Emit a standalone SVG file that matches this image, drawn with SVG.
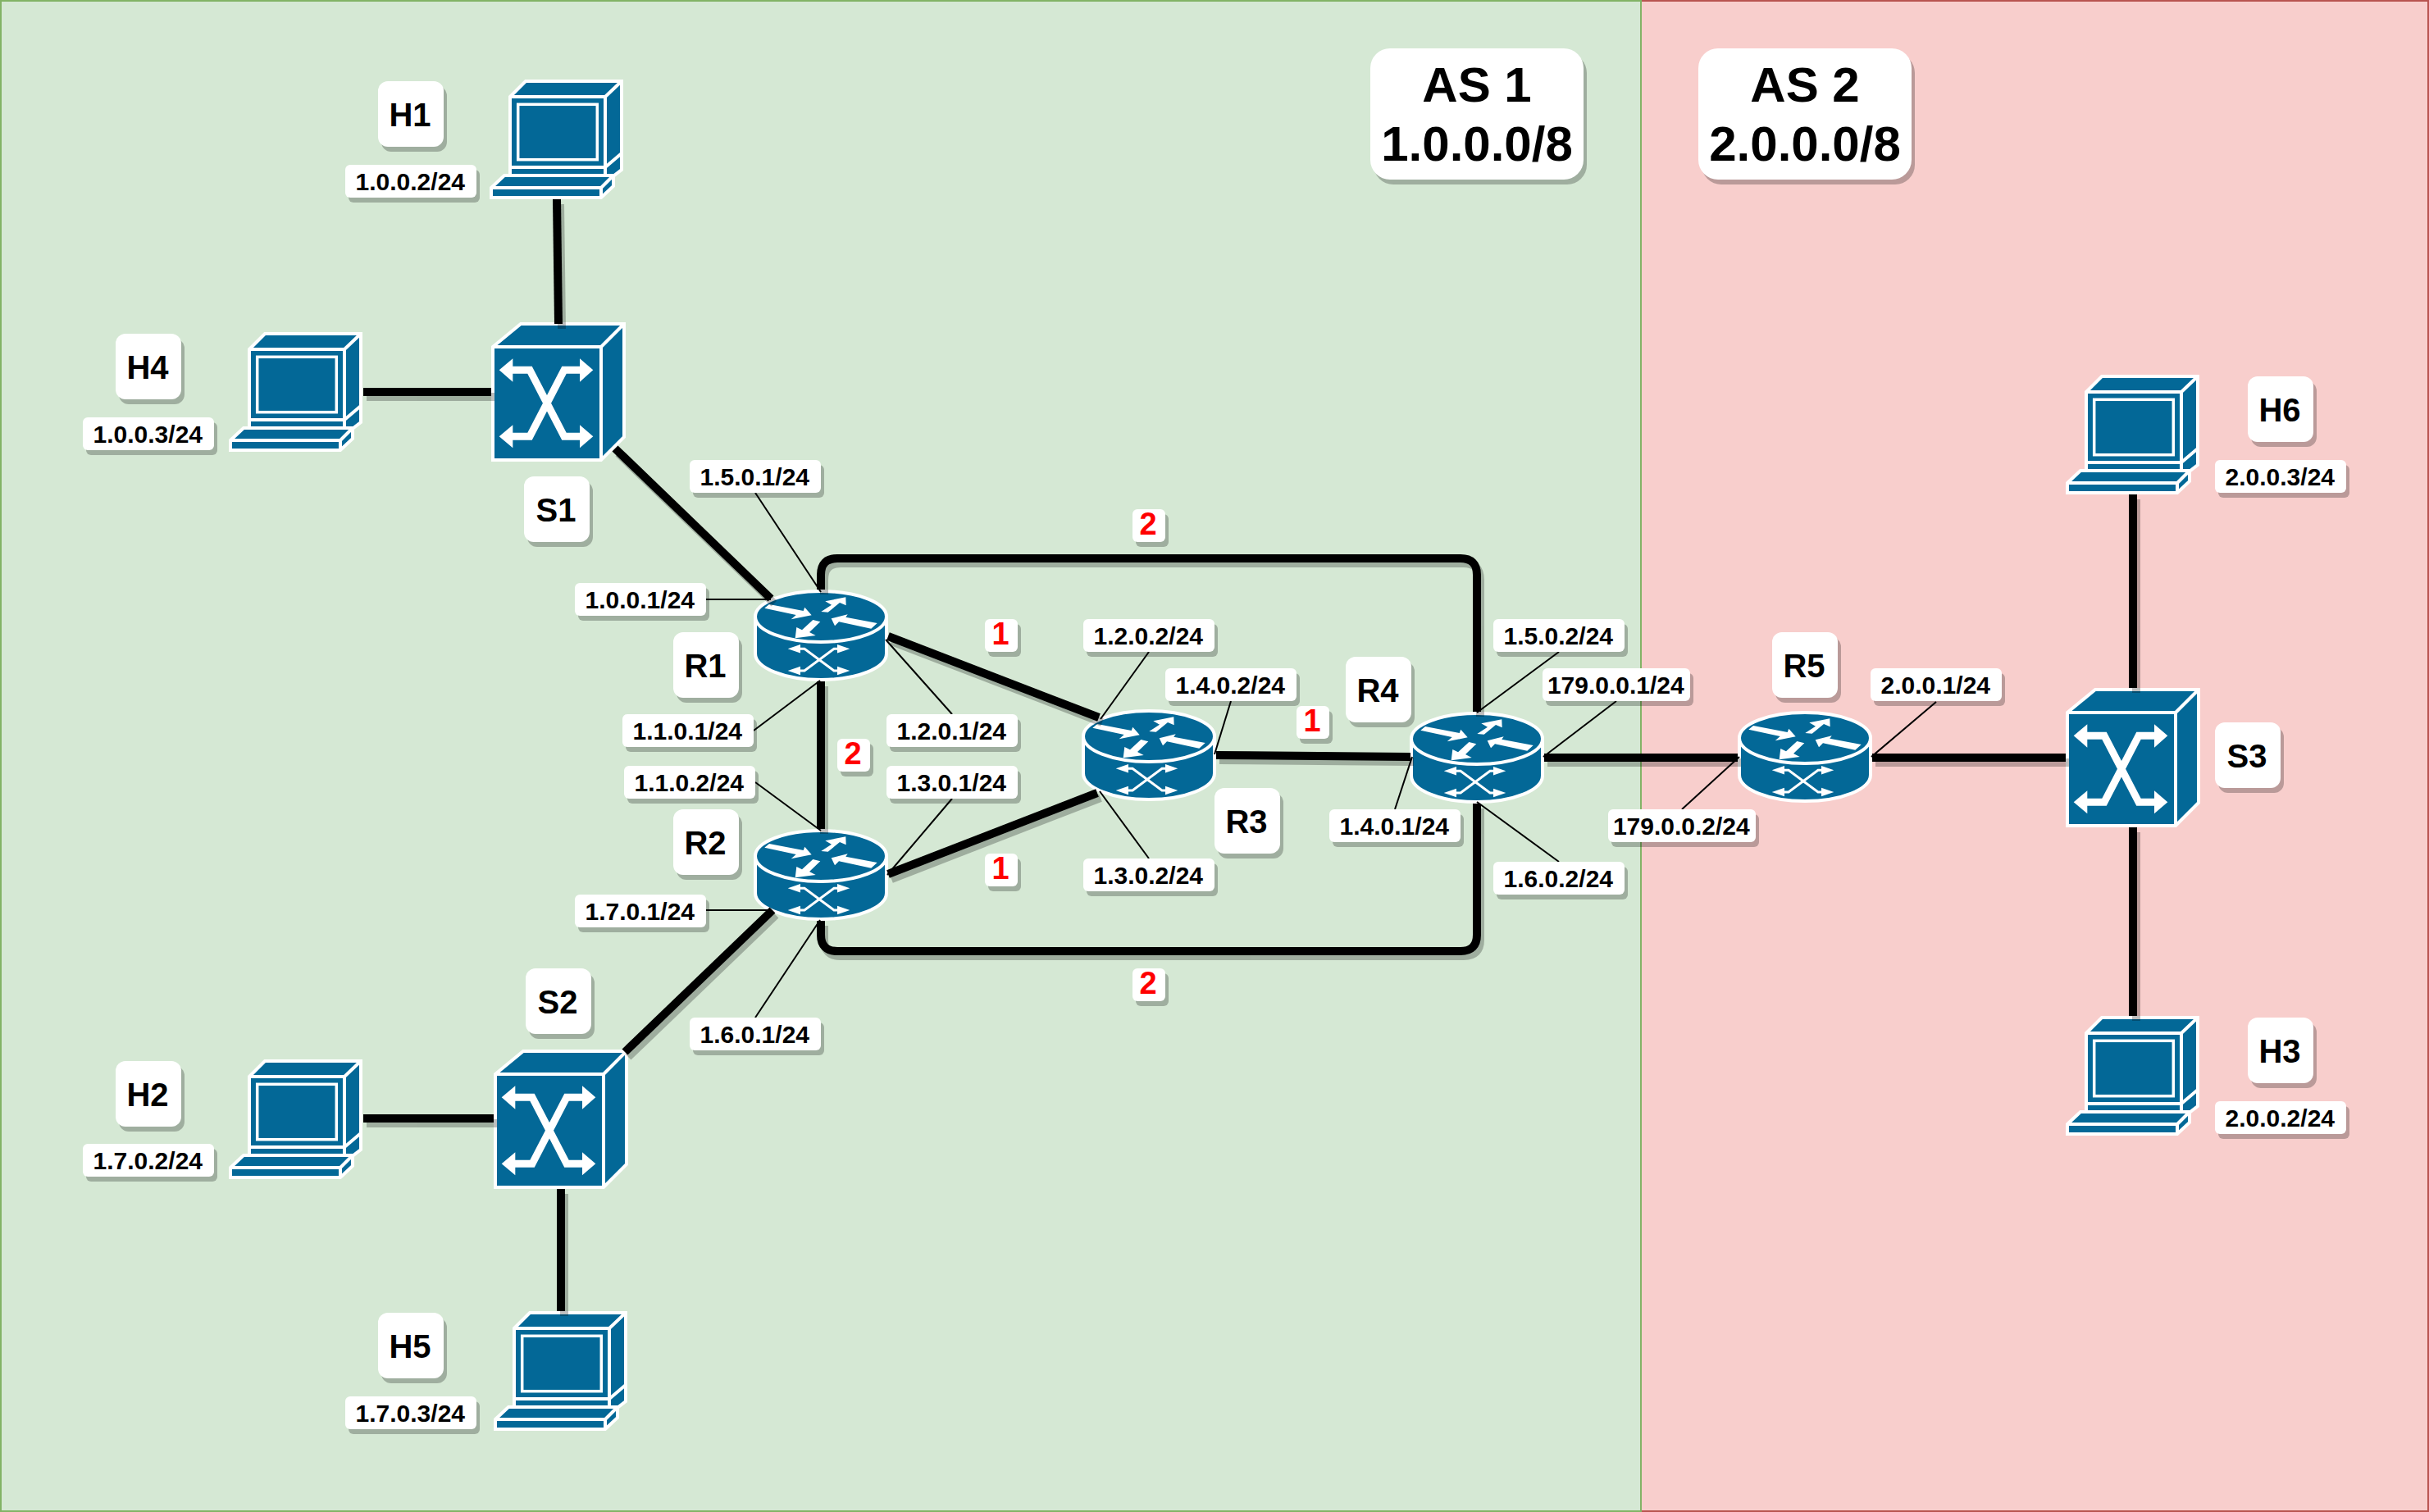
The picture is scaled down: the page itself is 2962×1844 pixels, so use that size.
<svg xmlns="http://www.w3.org/2000/svg" xmlns:xlink="http://www.w3.org/1999/xlink" width="2962" height="1844" viewBox="0 0 2962 1844">
<style>
text{font-family:"Liberation Sans",Arial,sans-serif;font-weight:700;text-anchor:middle;fill:#000}
.ip{font-size:30px;transform:translate(-0.7px,0)}.nm{font-size:40px;transform:translate(-1px,1px)}.rd{font-size:38px;fill:#ff0000;transform:translate(-1px,0)}.as{font-size:60px}
.box{fill:#fff}.sh{fill:#000;opacity:.25}
.ic{fill:#036897;stroke:#fff;stroke-width:4;stroke-linejoin:miter}
.il{fill:none;stroke:#fff;stroke-width:4}
.wf{fill:#fff;stroke:none}
.ws{fill:none;stroke:#fff;stroke-linejoin:miter}
.thick{fill:none;stroke:#000;stroke-width:10;stroke-linejoin:round}
.thin{fill:none;stroke:#000;stroke-width:2}
</style>
<defs>
<g id="lb160"><rect class="sh" x="4" y="6" width="160" height="40" rx="6"/><rect class="box" width="160" height="40" rx="6"/></g>
<g id="lb180"><rect class="sh" x="4" y="6" width="180" height="40" rx="6"/><rect class="box" width="180" height="40" rx="6"/></g>
<g id="lb80"><rect class="sh" x="4" y="6" width="80" height="80" rx="12"/><rect class="box" width="80" height="80" rx="12"/></g>
<g id="lb40"><rect class="sh" x="4" y="6" width="40" height="40" rx="6"/><rect class="box" width="40" height="40" rx="6"/></g>
<g id="lb260"><rect class="sh" x="4" y="6" width="260" height="160" rx="24"/><rect class="box" width="260" height="160" rx="24"/></g>
<g id="router">
<path class="ic" d="M2,33 A80,31 0 0 1 162,33 V78 A80,32 0 0 1 2,78 Z"/>
<path class="il" d="M2,33 A80,31 0 0 0 162,33"/>
<polygon class="wf" points="13.3,22.7 19,18 60.7,26 62.3,21.7 70.7,31.3 45.7,36.3 51.7,31"/>
<polygon class="wf" points="82.3,27 95,18.7 87.3,14.3 112.3,9.3 112.7,19.3 105,16 90.7,27.7"/>
<polygon class="wf" points="94.7,35.3 114.7,30.3 112.3,33.7 150.7,41 143.3,47.7 104,39.3 99,44.3"/>
<polygon class="wf" points="50.7,59.3 75.7,56 68,52 81.3,39.3 72.3,37 59,49.3 52.3,46"/>
<path class="ws" stroke-width="3" d="M55,72.3 H62 L98,99 H105 M55,99 H62 L98,72.3 H105"/>
<polygon class="wf" points="41.7,72.3 57,67 57,77.6"/>
<polygon class="wf" points="41.7,99 57,93.7 57,104.3"/>
<polygon class="wf" points="117.3,72.3 102,67 102,77.6"/>
<polygon class="wf" points="117.3,99 102,93.7 102,104.3"/>
</g>
<g id="switch">
<path class="ic" d="M2,30 L36,2 H162 V140 L134,168 H2 Z"/>
<path class="il" d="M2,30 H134 V168 M134,30 L162,2"/>
<path class="ws" stroke-width="9" d="M24,58.3 H47 L89,139.3 H110 M24,139.3 H47 L89,58.3 H110"/>
<polygon class="wf" points="9.7,58.3 26.3,44.3 26.3,72.7"/>
<polygon class="wf" points="9.7,139.3 26.3,125.3 26.3,153.3"/>
<polygon class="wf" points="124.3,58.3 108,44.3 108,72.7"/>
<polygon class="wf" points="124.3,139.3 108,125.3 108,153.3"/>
</g>
<g id="host">
<path class="ic" d="M25,21 L44,2 H161 V110 L148,120 H25 Z"/>
<path class="il" d="M25,21 H141 V107 H25 M141,21 L161,2 M141,107 L161,90 M141,107 V120"/>
<rect x="34.7" y="30.3" width="96.6" height="67.4" fill="none" stroke="#fff" stroke-width="3.5"/>
<path class="ic" d="M2,132 L18,117 H151 V130 L136,144 H2 Z"/>
<path class="il" stroke-width="3" d="M2,132 H136 V144 M136,132 L151,117"/>
</g>
</defs>

<g id="as-areas">
<rect x="2001" y="1" width="960" height="1842" fill="#f8cecc" stroke="#b85450" stroke-width="2"/>
<rect x="1" y="1" width="2000" height="1842" fill="#d5e8d4" stroke="#82b366" stroke-width="2"/>
</g>

<g id="H1"><use href="#host" x="597" y="97"/><use href="#lb80" x="461" y="99"/><text class="nm" x="501" y="153">H1</text></g>
<g id="H4"><use href="#host" x="279" y="405"/><use href="#lb80" x="141" y="407"/><text class="nm" x="181" y="461">H4</text></g>
<g id="H2"><use href="#host" x="279" y="1292"/><use href="#lb80" x="141" y="1294"/><text class="nm" x="181" y="1348">H2</text></g>
<g id="H5"><use href="#host" x="602" y="1599"/><use href="#lb80" x="461" y="1601"/><text class="nm" x="501" y="1655">H5</text></g>
<g id="H6"><use href="#host" x="2519" y="457"/><use href="#lb80" x="2741" y="459"/><text class="nm" x="2781" y="513">H6</text></g>
<g id="H3"><use href="#host" x="2519" y="1239"/><use href="#lb80" x="2741" y="1241"/><text class="nm" x="2781" y="1295">H3</text></g>
<g id="S1"><use href="#switch" x="599" y="393"/><use href="#lb80" x="639" y="581"/><text class="nm" x="679" y="635">S1</text></g>
<g id="S2"><use href="#switch" x="602" y="1280"/><use href="#lb80" x="641" y="1181"/><text class="nm" x="681" y="1235">S2</text></g>
<g id="S3"><use href="#switch" x="2519" y="839"/><use href="#lb80" x="2701" y="881"/><text class="nm" x="2741" y="935">S3</text></g>
<g id="R1"><use href="#router" x="919" y="719"/><use href="#lb80" x="821" y="771"/><text class="nm" x="861" y="825">R1</text></g>
<g id="R2"><use href="#router" x="919" y="1011"/><use href="#lb80" x="821" y="987"/><text class="nm" x="861" y="1041">R2</text></g>
<g id="R3"><use href="#router" x="1319" y="865"/><use href="#lb80" x="1481" y="961"/><text class="nm" x="1521" y="1015">R3</text></g>
<g id="R4"><use href="#router" x="1719" y="868"/><use href="#lb80" x="1641" y="801"/><text class="nm" x="1681" y="855">R4</text></g>
<g id="R5"><use href="#router" x="2119" y="867"/><use href="#lb80" x="2161" y="771"/><text class="nm" x="2201" y="825">R5</text></g>

<g id="connectors">
<defs>
<g id="thick-links">
<path class="thick" d="M679,243 L681,395"/>
<path class="thick" d="M443,478 H599"/>
<path class="thick" d="M750,547 L940,730"/>
<path class="thick" d="M443,1364 H602"/>
<path class="thick" d="M684,1450 V1599"/>
<path class="thick" d="M762,1283 L942,1110"/>
<path class="thick" d="M1001,831 V1011"/>
<path class="thick" d="M1083,776 L1340,875"/>
<path class="thick" d="M1083,1066 L1338,967"/>
<path class="thick" d="M1483,921 L1720,923"/>
<path class="thick" d="M1001,719 V701 Q1001,681 1021,681 H1781 Q1801,681 1801,701 V868"/>
<path class="thick" d="M1001,1123 V1140 Q1001,1160 1021,1160 H1781 Q1801,1160 1801,1140 V980"/>
<path class="thick" d="M1883,924 H2119"/>
<path class="thick" d="M2283,924 H2519"/>
<path class="thick" d="M2601,603 V839"/>
<path class="thick" d="M2601,1009 V1239"/>
</g>
</defs>
<use href="#thick-links" transform="translate(4,6)" opacity=".25"/>
<use href="#thick-links"/>
<g id="ip-leaders">
<path class="thin" d="M921,601 L1001,722"/>
<path class="thin" d="M861,731 H940"/>
<path class="thin" d="M919,891 L1000,830"/>
<path class="thin" d="M1161,871 L1080,780"/>
<path class="thin" d="M921,954 L1001,1013"/>
<path class="thin" d="M1161,974 L1082,1067"/>
<path class="thin" d="M861,1110 H940"/>
<path class="thin" d="M921,1241 L1000,1122"/>
<path class="thin" d="M1401,795 L1342,877"/>
<path class="thin" d="M1501,855 L1481,920"/>
<path class="thin" d="M1401,1047 L1341,965"/>
<path class="thin" d="M1701,987 L1722,923"/>
<path class="thin" d="M1901,795 L1801,869"/>
<path class="thin" d="M1971,855 L1882,923"/>
<path class="thin" d="M1901,1051 L1801,978"/>
<path class="thin" d="M2051,987 L2121,923"/>
<path class="thin" d="M2361,856 L2282,923"/>
</g>
</g>

<g id="ip-labels">
<use href="#lb160" x="421" y="201"/><text class="ip" x="501" y="232">1.0.0.2/24</text>
<use href="#lb160" x="101" y="509"/><text class="ip" x="181" y="540">1.0.0.3/24</text>
<use href="#lb160" x="101" y="1395"/><text class="ip" x="181" y="1426">1.7.0.2/24</text>
<use href="#lb160" x="421" y="1703"/><text class="ip" x="501" y="1734">1.7.0.3/24</text>
<use href="#lb160" x="841" y="561"/><text class="ip" x="921" y="592">1.5.0.1/24</text>
<use href="#lb160" x="701" y="711"/><text class="ip" x="781" y="742">1.0.0.1/24</text>
<use href="#lb160" x="759" y="871"/><text class="ip" x="839" y="902">1.1.0.1/24</text>
<use href="#lb160" x="761" y="934"/><text class="ip" x="841" y="965">1.1.0.2/24</text>
<use href="#lb160" x="701" y="1091"/><text class="ip" x="781" y="1122">1.7.0.1/24</text>
<use href="#lb160" x="841" y="1241"/><text class="ip" x="921" y="1272">1.6.0.1/24</text>
<use href="#lb160" x="1081" y="871"/><text class="ip" x="1161" y="902">1.2.0.1/24</text>
<use href="#lb160" x="1081" y="934"/><text class="ip" x="1161" y="965">1.3.0.1/24</text>
<use href="#lb160" x="1321" y="755"/><text class="ip" x="1401" y="786">1.2.0.2/24</text>
<use href="#lb160" x="1421" y="815"/><text class="ip" x="1501" y="846">1.4.0.2/24</text>
<use href="#lb160" x="1321" y="1047"/><text class="ip" x="1401" y="1078">1.3.0.2/24</text>
<use href="#lb160" x="1621" y="987"/><text class="ip" x="1701" y="1018">1.4.0.1/24</text>
<use href="#lb160" x="1821" y="755"/><text class="ip" x="1901" y="786">1.5.0.2/24</text>
<use href="#lb180" x="1881" y="815"/><text class="ip" x="1971" y="846">179.0.0.1/24</text>
<use href="#lb180" x="1961" y="987"/><text class="ip" x="2051" y="1018">179.0.0.2/24</text>
<use href="#lb160" x="1821" y="1051"/><text class="ip" x="1901" y="1082">1.6.0.2/24</text>
<use href="#lb160" x="2281" y="815"/><text class="ip" x="2361" y="846">2.0.0.1/24</text>
<use href="#lb160" x="2701" y="561"/><text class="ip" x="2781" y="592">2.0.0.3/24</text>
<use href="#lb160" x="2701" y="1343"/><text class="ip" x="2781" y="1374">2.0.0.2/24</text>
</g>

<g id="weights">
<use href="#lb40" x="1201" y="755"/><text class="rd" x="1221" y="786">1</text>
<use href="#lb40" x="1201" y="1041"/><text class="rd" x="1221" y="1072">1</text>
<use href="#lb40" x="1021" y="901"/><text class="rd" x="1041" y="932">2</text>
<use href="#lb40" x="1581" y="861"/><text class="rd" x="1601" y="892">1</text>
<use href="#lb40" x="1381" y="621"/><text class="rd" x="1401" y="652">2</text>
<use href="#lb40" x="1381" y="1181"/><text class="rd" x="1401" y="1212">2</text>
</g>

<g id="AS1"><use href="#lb260" x="1671" y="59"/><text class="as" x="1801" y="124">AS 1</text><text class="as" x="1801" y="196">1.0.0.0/8</text></g>
<g id="AS2"><use href="#lb260" x="2071" y="59"/><text class="as" x="2201" y="124">AS 2</text><text class="as" x="2201" y="196">2.0.0.0/8</text></g>
</svg>
